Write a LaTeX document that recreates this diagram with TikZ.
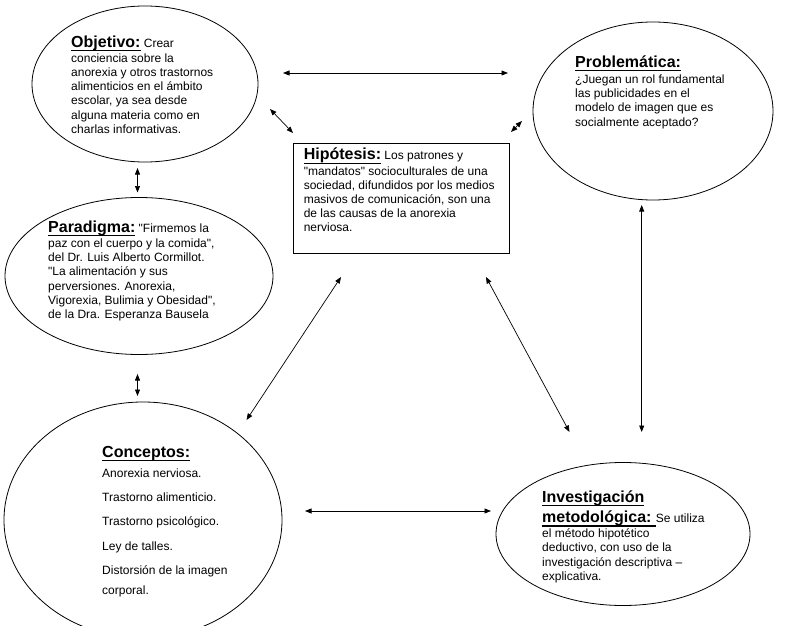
\documentclass[tikz,border=0pt]{standalone}
\usepackage{fontspec}
\setmainfont{Liberation Sans}
\usetikzlibrary{shapes.geometric, arrows.meta, positioning}

% underlined bold heading
\newcommand{\hd}[1]{{\fontsize{16}{18}\selectfont\bfseries
  \setbox0\hbox{#1}\rule{0pt}{13pt}\rlap{\rule[-4.2pt]{\wd0}{1.3pt}}\box0}}
% straight quotes
\newcommand{\qt}[1]{\textquotedbl#1\textquotedbl}

\begin{document}
\begin{tikzpicture}[
    x=1pt, y=-1pt,
    idea/.style = {
        ellipse,
        draw=black,
        line width=0.8pt,
        inner sep=0pt
    },
    txt/.style = {
        anchor=north west,
        align=left,
        inner sep=0pt,
        font=\fontsize{12}{14.2}\selectfont
    },
    link/.style = {<->, >={Triangle[length=6.5pt,width=5pt]}, line width=0.7pt}
]
\useasboundingbox (0,0) rectangle (793,626);

% ellipses and box
\node [idea, minimum width=226, minimum height=156] (obj) at (145,84) {};
\node [idea, minimum width=240, minimum height=178] (prob) at (653,111) {};
\node [idea, minimum width=268, minimum height=157] (para) at (139,276) {};
\node [idea, minimum width=278, minimum height=236] (conc) at (143,520) {};
\node [idea, minimum width=254, minimum height=143] (inv) at (623,534) {};
\node [draw=black, line width=0.8pt, minimum width=216, minimum height=110, inner sep=0pt] (hip) at (401,198) {};

% texts
\node [txt] (objtxt) at ([shift={(-74,-50)}]obj.center) {\hd{Objetivo:} Crear\\[1pt]
conciencia sobre la\\
anorexia y otros trastornos\\
alimenticios en el ámbito\\
escolar, ya sea desde\\
alguna materia como en\\
charlas informativas.};

\node [txt] (probtxt) at ([shift={(-78,-57)}]prob.center) {\hd{Problemática:}\\[2pt]
¿Juegan un rol fundamental\\
las publicidades en el\\
modelo de imagen que es\\
socialmente aceptado?};

\node [txt] (hiptxt) at ([shift={(11,4)}]hip.north west) {\hd{Hipótesis:} Los patrones y\\[1pt]
\qt{mandatos} socioculturales de una\\
sociedad, difundidos por los medios\\
masivos de comunicación, son una\\
de las causas de la anorexia\\
nerviosa.};

\node [txt] (paratxt) at ([shift={(-91,-57)}]para.center) {\hd{Paradigma:} \textquotedbl Firmemos la\\[1pt]
paz con el cuerpo y la comida\textquotedbl,\\
del Dr. Luis Alberto Cormillot.\\
\textquotedbl La alimentación y sus\\
perversiones. Anorexia,\\
Vigorexia, Bulimia y Obesidad\textquotedbl,\\
de la Dra. Esperanza Bausela};

\node [txt, font=\fontsize{12}{24.3}\selectfont] (conctxt) at ([shift={(-41,-76)}]conc.center) {\hd{Conceptos:}\\[-4.3pt]
Anorexia nerviosa.\\
Trastorno alimenticio.\\
Trastorno psicológico.\\
Ley de talles.\\
Distorsión de la imagen\\[-4.3pt]
corporal.};

\node [txt] (invtxt) at ([shift={(-81,-45)}]inv.center) {\hd{Investigación}\\[2pt]
\hd{metodológica:\ }Se utiliza\\[1pt]
el método hipotético\\
deductivo, con uso de la\\
investigación descriptiva --\\
explicativa.};

% arrow ends
\coordinate (objE) at (283,73);
\coordinate (probW) at (508,73);
\coordinate (objSE) at (270,109);
\coordinate (hipNW) at (293,133);
\coordinate (probSW) at (522,121);
\coordinate (hipNE) at (511,132);
\coordinate (objS) at (137.5,168);
\coordinate (paraN) at (137.5,192.5);
\coordinate (paraS) at (137.5,374);
\coordinate (concN) at (137.5,396);
\coordinate (hipSW) at (341,277);
\coordinate (concNE) at (246.5,420);
\coordinate (hipSE) at (486,277);
\coordinate (invNW) at (569.5,432);
\coordinate (probS) at (641.7,205);
\coordinate (invN) at (641.7,432);
\coordinate (concE) at (305,511);
\coordinate (invW) at (491,511);

% connectors
\draw [link] (objE) -- (probW);
\draw [link] (objSE) -- (hipNW);
\draw [link] (probSW) -- (hipNE);
\draw [link] (objS) -- (paraN);
\draw [link] (paraS) -- (concN);
\draw [link] (hipSW) -- (concNE);
\draw [link] (hipSE) -- (invNW);
\draw [link] (probS) -- (invN);
\draw [link] (concE) -- (invW);

\end{tikzpicture}
\end{document}
